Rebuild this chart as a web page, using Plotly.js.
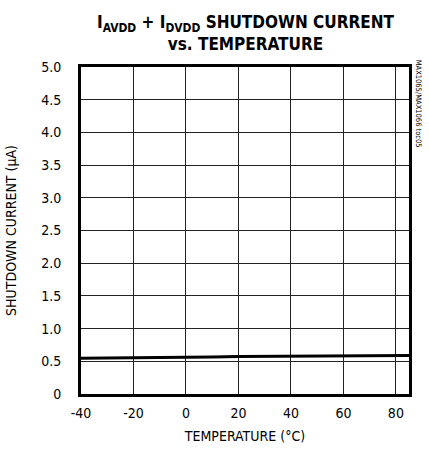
<!DOCTYPE html>
<html><head><meta charset="utf-8">
<script src="https://cdn.plot.ly/plotly-3.0.1.min.js"></script>
<style>html,body{margin:0;padding:0;background:#fff;}#chart{width:429px;height:458px;}</style>
</head><body><div id="chart"></div>
<script>
const temperatures = [-40, -30, -20, -10, 0, 10, 20, 30, 40, 50, 60, 70, 80, 85];
const shutdownCurrent = [0.548, 0.550, 0.552, 0.553, 0.555, 0.565, 0.572, 0.576, 0.579, 0.581, 0.583, 0.585, 0.587, 0.589];
const xTicks = [-40, -20, 0, 20, 40, 60, 80];
const yTicks = [0, 0.5, 1, 1.5, 2, 2.5, 3, 3.5, 4, 4.5, 5];
const yTickLabels = ["0", "0.5", "1.0", "1.5", "2.0", "2.5", "3.0", "3.5", "4.0", "4.5", "5.0"];

const FONT = "'Liberation Sans Narrow', 'DejaVu Sans Condensed', 'Arial Narrow', sans-serif";

const trace = {
  x: temperatures, y: shutdownCurrent, type: 'scatter', mode: 'lines',
  line: {color: '#000', width: 3}, hoverinfo: 'skip'
};

const layout = {
  width: 429, height: 458,
  margin: {l: 81, r: 20, t: 67, b: 64},
  paper_bgcolor: '#fff', plot_bgcolor: '#fff',
  showlegend: false,
  font: {family: FONT, color: '#000', size: 14},
  xaxis: {
    range: [-40, 85], tickvals: xTicks, ticktext: xTicks.map(String),
    showgrid: true, gridcolor: '#222', gridwidth: 1,
    zeroline: false, showline: true, linecolor: '#000', linewidth: 3, mirror: true,
    ticks: '', ticklen: 0, tickfont: {family: FONT, size: 14}, ticklabelstandoff: 4,
    title: {text: 'TEMPERATURE (°C)', font: {family: FONT, size: 14}, standoff: 12}
  },
  yaxis: {
    range: [0, 5], tickvals: yTicks, ticktext: yTickLabels,
    showgrid: true, gridcolor: '#222', gridwidth: 1,
    zeroline: false, showline: true, linecolor: '#000', linewidth: 3, mirror: true,
    ticks: '', ticklen: 0, tickfont: {family: FONT, size: 14}, ticklabelstandoff: 14,
    title: {text: 'SHUTDOWN CURRENT (µA)', font: {family: FONT, size: 14}, standoff: 22}
  },
  annotations: [{
    text: '<b>I<sub>AVDD</sub> + I<sub>DVDD</sub> SHUTDOWN CURRENT<br>vs. TEMPERATURE</b>',
    xref: 'paper', yref: 'paper', x: 0.5, y: 1, xanchor: 'center', yanchor: 'bottom', yshift: 11,
    showarrow: false, align: 'center',
    font: {family: FONT, size: 17, color: '#000'}
  }, {
    text: 'MAX1065/MAX1066 toc05', xref: 'paper', yref: 'paper',
    x: 1.0, y: 1.03, xanchor: 'left', yanchor: 'top', xshift: 3,
    textangle: 90, showarrow: false,
    font: {family: FONT, size: 7.5, color: '#000'}
  }]
};

Plotly.newPlot('chart', [trace], layout, {displayModeBar: false, staticPlot: true});
</script>
</body></html>
